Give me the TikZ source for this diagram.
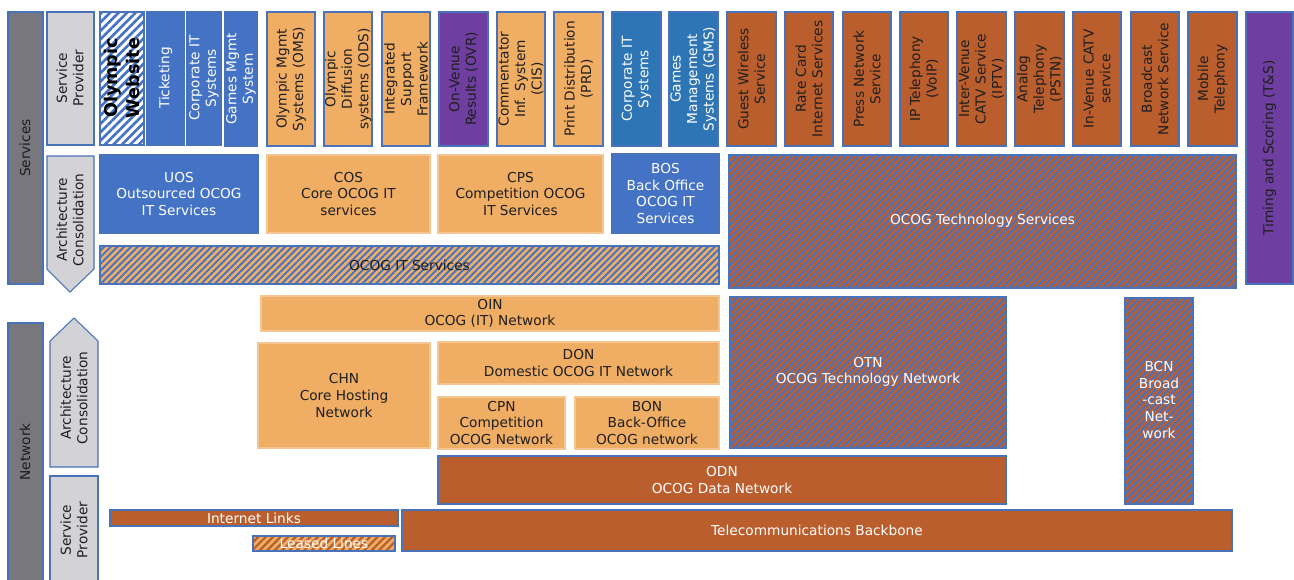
\documentclass[tikz,border=0pt]{standalone}
\usepackage{fontspec}
\setmainfont{DejaVu Sans}
\usetikzlibrary{patterns.meta}

\definecolor{ocogorange}{HTML}{F0AE64}
\definecolor{ocogblue}{HTML}{4472C4}
\definecolor{ocogsteel}{HTML}{2E75B6}
\definecolor{ocogbrown}{HTML}{BA5E2E}
\definecolor{ocogpurple}{HTML}{6E3FA0}
\definecolor{ocogdark}{HTML}{77777D}
\definecolor{ocoglight}{HTML}{D3D3D7}
\definecolor{ocogedge}{HTML}{4A72B8}
\definecolor{ocogink}{HTML}{1E1E1E}

\begin{document}
\begin{tikzpicture}[x=0.02cm, y=-0.02cm,
    box/.style={draw=ocogedge, line width=0.6pt},
    bluebox/.style={box, fill=ocogblue},
    steelbox/.style={box, fill=ocogsteel},
    orangebox/.style={box, fill=ocogorange},
    flatorange/.style={draw=ocogorange!70!white, line width=0.6pt, fill=ocogorange},
    brownbox/.style={box, fill=ocogbrown},
    purplebox/.style={box, fill=ocogpurple},
    darkbox/.style={box, fill=ocogdark},
    lightbox/.style={box, fill=ocoglight},
    hatched/.style={box, preaction={fill=#1}, pattern={Lines[angle=45,distance=2.7pt,line width=1.1pt]}, pattern color=ocogblue},
    txt/.style={align=center, inner sep=0pt, text=ocogink, font=\fontsize{7.8}{9.4}\selectfont},
    wtxt/.style={txt, text=white},
    vtxt/.style={txt, rotate=90},
    vwtxt/.style={wtxt, rotate=90}]
			\clip (0,0) rectangle (1294,579);

			% services layer
			\draw[darkbox](8,12) rectangle (43,284);
			\node[vtxt] (services) at (25,148){Services};
			\draw[lightbox](47,12) rectangle (94,145);
			\node[vtxt] (svcprov) at (70,78){Service\\Provider};
			\draw[lightbox](47,156) -- (94,156) -- (94,269) -- (70,292) -- (47,269) -- cycle;
			\node[vtxt] (svcarch) at (70,220){Architecture\\Consolidation};

			\draw[box, preaction={fill=white}, pattern={Lines[angle=45,distance=3.4pt,line width=1.5pt]}, pattern color=ocogblue](100,12) rectangle (144,145);
			\node[vtxt, font=\fontsize{10}{12.4}\selectfont\bfseries, text=black] (website) at (122,78){Olympic\\Website};
			\draw[bluebox](147,12) rectangle (184,145);
			\node[vwtxt] (ticketing) at (165.5,78){Ticketing};
			\draw[bluebox](187,12) rectangle (221,145);
			\node[vwtxt] (corpit) at (204,78){Corporate IT\\Systems};
			\draw[bluebox](225,12) rectangle (257,146);
			\node[vwtxt] (gamesmgmt) at (241,79){Games Mgmt\\System};
			\draw[orangebox](267,12) rectangle (315,146);
			\node[vtxt] (oms) at (291,79){Olympic Mgmt\\Systems (OMS)};
			\draw[orangebox](324,12) rectangle (372,146);
			\node[vtxt] (ods) at (348,79){Olympic\\Diffusion\\systems (ODS)};
			\draw[orangebox](382,12) rectangle (430,146);
			\node[vtxt] (isf) at (406,79){Integrated\\Support\\Framework};
			\draw[purplebox](439,12) rectangle (488,146);
			\node[vtxt] (ovr) at (463.5,79){On-Venue\\Results (OVR)};
			\draw[orangebox](497,12) rectangle (545,146);
			\node[vtxt] (cis) at (521,79){Commentator\\Inf. System\\(CIS)};
			\draw[orangebox](554,12) rectangle (603,146);
			\node[vtxt] (prd) at (578.5,79){Print Distribution\\(PRD)};
			\draw[steelbox](612,12) rectangle (661,146);
			\node[vwtxt] (corpit2) at (636.5,79){Corporate IT\\Systems};
			\draw[steelbox](669,12) rectangle (718,146);
			\node[vwtxt] (gms) at (693.5,79){Games\\Management\\Systems (GMS)};
			\draw[brownbox](727,12) rectangle (776,146);
			\node[vtxt] (wireless) at (751.5,79){Guest Wireless\\Service};
			\draw[brownbox](785,12) rectangle (833,146);
			\node[vtxt] (ratecard) at (809,79){Rate Card\\Internet Services};
			\draw[brownbox](843,12) rectangle (891,146);
			\node[vtxt] (press) at (867,79){Press Network\\Service};
			\draw[brownbox](900,12) rectangle (948,146);
			\node[vtxt] (voip) at (924,79){IP Telephony\\(VoIP)};
			\draw[brownbox](957,12) rectangle (1006,146);
			\node[vtxt] (iptv) at (981.5,79){Inter-Venue\\CATV Service\\(IPTV)};
			\draw[brownbox](1015,12) rectangle (1064,146);
			\node[vtxt] (pstn) at (1039.5,79){Analog\\Telephony\\(PSTN)};
			\draw[brownbox](1073,12) rectangle (1121,146);
			\node[vtxt] (catv) at (1097,79){In-Venue CATV\\service};
			\draw[brownbox](1131,12) rectangle (1179,146);
			\node[vtxt] (broadcast) at (1155,79){Broadcast\\Network Service};
			\draw[brownbox](1188,12) rectangle (1237,146);
			\node[vtxt] (mobile) at (1212.5,79){Mobile\\Telephony};
			\draw[purplebox](1246,12) rectangle (1293,284);
			\node[vtxt] (timing) at (1269.5,148){Timing and Scoring (T\&S)};

			\draw[bluebox](100,155) rectangle (258,233);
			\node[wtxt] (uos) at (179,194){UOS\\Outsourced OCOG\\IT Services};
			\draw[flatorange](267,155) rectangle (430,233);
			\node[txt] (cos) at (348.5,194){COS\\Core OCOG IT\\services};
			\draw[flatorange](438,155) rectangle (603,233);
			\node[txt] (cps) at (520.5,194){CPS\\Competition OCOG\\IT Services};
			\draw[bluebox](612,154) rectangle (719,233);
			\node[wtxt] (bos) at (665.5,193.5){BOS\\Back Office\\OCOG IT\\Services};
			\draw[hatched=ocogbrown](729,155) rectangle (1236,288);
			\node[wtxt] (techsvc) at (982.5,221){OCOG Technology Services};
			\draw[hatched=ocogorange](100,246) rectangle (719,284);
			\node[txt] (itsvc) at (409.5,265){OCOG IT Services};

			% network layer
			\draw[darkbox](8,323) rectangle (43,590);
			\node[vtxt] (network) at (25,452){Network};
			\draw[lightbox](50,467) -- (50,341) -- (74,318) -- (98,341) -- (98,467) -- cycle;
			\node[vtxt] (netarch) at (74,398){Architecture\\Consolidation};
			\draw[lightbox](50,476) rectangle (98,590);
			\node[vtxt] (netprov) at (74,530){Service\\Provider};

			\draw[flatorange](261,296) rectangle (719,331);
			\node[txt] (oin) at (490,313.5){OIN\\OCOG (IT) Network};
			\draw[flatorange](258,343) rectangle (430,448);
			\node[txt] (chn) at (344,395.5){CHN\\Core Hosting\\Network};
			\draw[flatorange](438,342) rectangle (719,384);
			\node[txt] (don) at (578.5,363){DON\\Domestic OCOG IT Network};
			\draw[flatorange](438,397) rectangle (565,449);
			\node[txt] (cpn) at (501.5,423){CPN\\Competition\\OCOG Network};
			\draw[flatorange](575,397) rectangle (719,449);
			\node[txt] (bon) at (647,423){BON\\Back-Office\\OCOG network};
			\draw[hatched=ocogbrown](730,297) rectangle (1006,448);
			\node[wtxt] (otn) at (868,372){OTN\\OCOG Technology Network};
			\draw[hatched=ocogbrown](1125,298) rectangle (1193,504);
			\node[wtxt] (bcn) at (1159,400){BCN\\Broad\\-cast\\Net-\\work};
			\draw[brownbox](438,456) rectangle (1006,504);
			\node[wtxt] (odn) at (722,480){ODN\\OCOG Data Network};

			\draw[brownbox](110,510) rectangle (398,526);
			\node[wtxt] (internet) at (254,518){Internet Links};
			\draw[box, preaction={fill=ocogorange}, pattern={Lines[angle=45,distance=3pt,line width=1.3pt]}, pattern color=ocogbrown](253,536) rectangle (395,551);
			\node[wtxt] (leased) at (324,543.5){Leased Lines};
			\draw[brownbox](402,510) rectangle (1232,551);
			\node[wtxt] (backbone) at (817,530.5){Telecommunications Backbone};
		\end{tikzpicture}
\end{document}
